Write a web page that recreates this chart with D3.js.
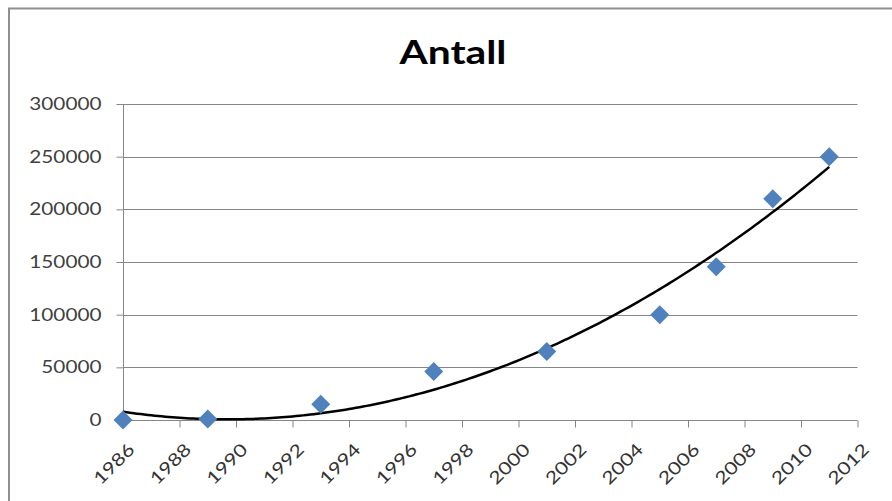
<!DOCTYPE html>
<html><head><meta charset="utf-8">
<script src="https://cdn.jsdelivr.net/npm/d3@7"></script>
<style>body{margin:0;background:#fff}svg{display:block}text{font-family:Lato,"Open Sans",sans-serif}</style>
</head><body><svg id="c" width="892" height="501"></svg>
<script>
const years = [1986, 1989, 1993, 1997, 2001, 2005, 2007, 2009, 2011];
const values = [0, 1000, 15000, 46000, 65000, 100000, 145500, 210000, 250000];
const yTicks = [0, 50000, 100000, 150000, 200000, 250000, 300000];
const xTicks = [1986,1988,1990,1992,1994,1996,1998,2000,2002,2004,2006,2008,2010,2012];
const title = "Antall";

const svg = d3.select("#c");
svg.append("rect").attr("x",9).attr("y",8.5).attr("width",900).attr("height",520)
  .attr("fill","#fff").attr("stroke","#8f8f8f").attr("stroke-width",2);

const x = d3.scaleLinear().domain([1986,2012]).range([123,857.5]);
const y = d3.scaleLinear().domain([0,300000]).range([420,104]);
const grey = "#868686";

function stretch(sel, f){ sel.each(function(){ const w=this.getComputedTextLength(); d3.select(this).attr("textLength", w*f).attr("lengthAdjust","spacingAndGlyphs"); }); }

// gridlines
svg.append("g").selectAll("line").data(yTicks.slice(1)).join("line")
  .attr("x1",123).attr("x2",857.5).attr("y1",d=>Math.round(y(d))+0.5).attr("y2",d=>Math.round(y(d))+0.5)
  .attr("stroke",grey).attr("stroke-width",1);

// y axis
const ya = svg.append("g").attr("transform","translate(123.5,0)")
  .call(d3.axisLeft(y).tickValues(yTicks).tickSize(7).tickPadding(15).tickFormat(d=>String(d)));
ya.select(".domain").attr("stroke",grey).attr("d","M0,104V420");
ya.selectAll(".tick line").attr("stroke",grey);
ya.selectAll("text").attr("font-size",17).attr("fill","#404040").attr("font-family","Lato").call(stretch,1.22);

// x axis
const xa = svg.append("g").attr("transform","translate(0,420.5)")
  .call(d3.axisBottom(x).tickValues(xTicks).tickSize(7).tickFormat(d=>String(d)));
xa.select(".domain").attr("stroke",grey).attr("d","M123,0H857.5");
xa.selectAll(".tick line").attr("stroke",grey);
xa.selectAll("text").attr("font-size",17.5).attr("fill","#333").attr("font-family","Lato")
  .attr("text-anchor","end").attr("y",0).attr("dy","0.35em")
  .attr("transform","translate(8,26) rotate(-45)").call(stretch,1.22);

// quadratic least-squares trendline from data
const n = years.length;
const t = years.map(v=>v-1998);
let S=[0,0,0,0,0], T=[0,0,0];
for(let i=0;i<n;i++){ for(let k=0;k<5;k++) S[k]+=Math.pow(t[i],k); for(let k=0;k<3;k++) T[k]+=values[i]*Math.pow(t[i],k); }
const M=[[S[0],S[1],S[2],T[0]],[S[1],S[2],S[3],T[1]],[S[2],S[3],S[4],T[2]]];
for(let i=0;i<3;i++){ for(let j=i+1;j<3;j++){ const f=M[j][i]/M[i][i]; for(let k=i;k<4;k++) M[j][k]-=f*M[i][k]; } }
const c=[0,0,0];
for(let i=2;i>=0;i--){ let s=M[i][3]; for(let k=i+1;k<3;k++) s-=M[i][k]*c[k]; c[i]=s/M[i][i]; }
const trend = d3.range(0,201).map(i=>{ const yr=years[0]+(years[n-1]-years[0])*i/200; const tt=yr-1998; return [yr, c[0]+c[1]*tt+c[2]*tt*tt]; });
svg.append("path").datum(trend).attr("fill","none").attr("stroke","#000").attr("stroke-width",2.5)
  .attr("d", d3.line().x(d=>x(d[0])).y(d=>y(d[1])).curve(d3.curveLinear));

// markers
svg.append("g").selectAll("path").data(years.map((v,i)=>[v,values[i]])).join("path")
  .attr("transform",d=>`translate(${x(d[0])},${y(d[1])})`)
  .attr("d","M0,-9.5L9.5,0L0,9.5L-9.5,0Z").attr("fill","#4F81BD");

// title
svg.append("text").attr("x",453).attr("y",64).attr("text-anchor","middle")
  .attr("font-size",33).attr("font-weight","bold").attr("fill","#000").text(title)
  .each(function(){ d3.select(this).attr("textLength",107).attr("lengthAdjust","spacingAndGlyphs"); });
</script></body></html>
